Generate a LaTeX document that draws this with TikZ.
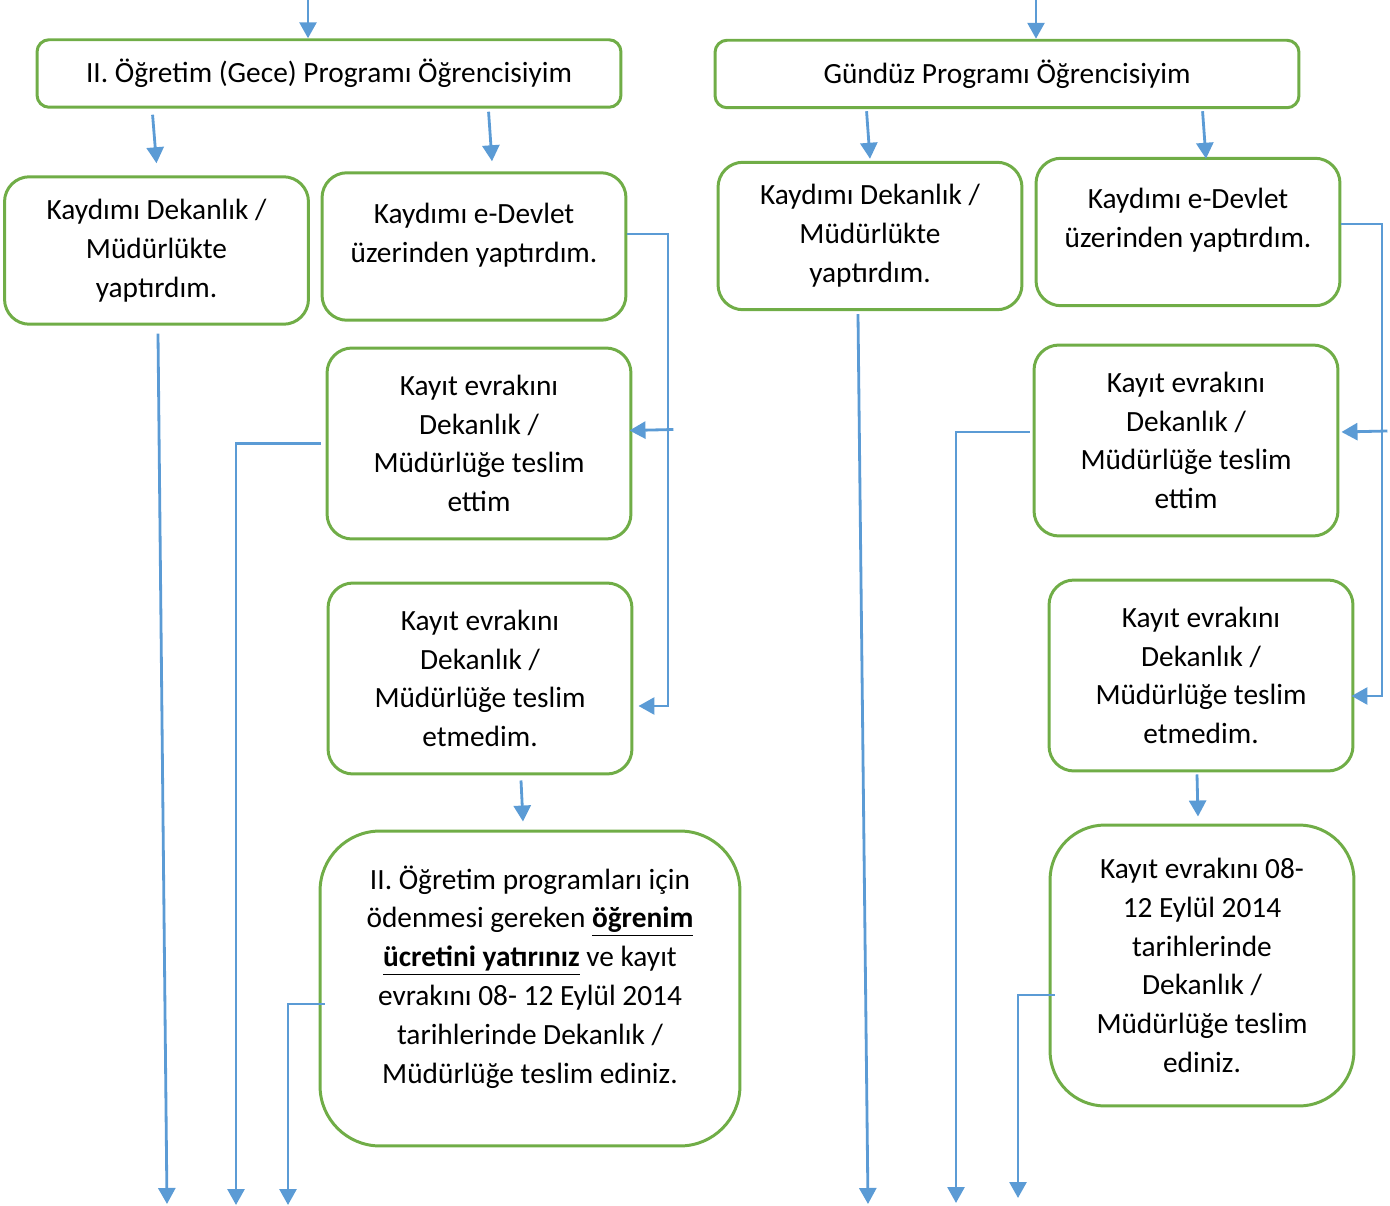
\documentclass[tikz,border=0pt]{standalone}
\usepackage{fontspec}
\setmainfont{Carlito}
\usetikzlibrary{arrows.meta}
\usetikzlibrary{calc}
\definecolor{BoxGreen}{RGB}{112,173,71}
\definecolor{LineBlue}{RGB}{91,155,213}
\tikzset{
  stepbox/.style={draw=BoxGreen, line width=1.7pt, rounded corners=0.5cm, align=center, inner sep=0pt, minimum width=6.08cm, font=\fontsize{16.7pt}{22.1pt}\selectfont},
  headbox/.style={stepbox, rounded corners=0.24cm, minimum width=11.68cm, minimum height=1.35cm},
  smallbox/.style={stepbox, minimum height=2.95cm},
  tallbox/.style={stepbox, minimum height=3.82cm},
  raised/.style={text depth=16pt},
  flow/.style={draw=LineBlue, line width=1.6pt, -{Triangle[length=0.32cm,width=0.34cm]}}
}
\begin{document}
\begin{tikzpicture}[x=0.02cm, y=-0.02cm]
   		\useasboundingbox (0,0) rectangle (1390,1206);
   		
   		\node[headbox](gece) at (329,73.5){II. Öğretim (Gece) Programı Öğrencisiyim};
   		\node[headbox](gunduz) at (1007,74){Gündüz Programı Öğrencisiyim};
   		
   		\node[smallbox](gDekan) at (156.5,250.5){Kaydımı Dekanlık /\\Müdürlükte\\yaptırdım.};
   		\node[smallbox, raised](gDevlet) at (474,246.5){Kaydımı e-Devlet\\üzerinden yaptırdım.};
   		\node[tallbox](gTeslim) at (479,443.5){Kayıt evrakını\\Dekanlık /\\Müdürlüğe teslim\\ettim};
   		\node[tallbox](gYok) at (480,678.5){Kayıt evrakını\\Dekanlık /\\Müdürlüğe teslim\\etmedim.};
   		\node[stepbox, raised, rounded corners=1.2cm, minimum width=8.4cm, minimum height=6.3cm](gUcret) at (530,988.5){II. Öğretim programları için\\ödenmesi gereken \underline{\textbf{öğrenim}}\\\underline{\textbf{ücretini yatırınız}} ve kayıt\\evrakını 08- 12 Eylül 2014\\tarihlerinde Dekanlık /\\Müdürlüğe teslim ediniz.};
   		
   		\node[smallbox](dDekan) at (870,236){Kaydımı Dekanlık /\\Müdürlükte\\yaptırdım.};
   		\node[smallbox, raised](dDevlet) at (1188,232){Kaydımı e-Devlet\\üzerinden yaptırdım.};
   		\node[tallbox](dTeslim) at (1186,440.5){Kayıt evrakını\\Dekanlık /\\Müdürlüğe teslim\\ettim};
   		\node[tallbox](dYok) at (1201,675.5){Kayıt evrakını\\Dekanlık /\\Müdürlüğe teslim\\etmedim.};
   		\node[stepbox, rounded corners=1.1cm, minimum height=5.62cm](dTarih) at (1202,965.5){Kayıt evrakını 08-\\12 Eylül 2014\\tarihlerinde\\Dekanlık /\\Müdürlüğe teslim\\ediniz.};
   		
   		\coordinate (gIn) at (308,0);
   		\coordinate (gBus) at (668,234);
   		\coordinate (gOut1) at (167,1204);
   		\coordinate (gOut2) at (236,1205);
   		\coordinate (gOut3) at (288,1205);
   		\coordinate (dIn) at (1036,0);
   		\coordinate (dBus) at (1382,224);
   		\coordinate (dOut1) at (868,1204);
   		\coordinate (dOut2) at (956,1203);
   		\coordinate (dOut3) at (1018,1198);
   		
   		\draw [flow] (gIn) -- (gIn |- gece.north);
   		\draw [flow] ($(gece.south west)+(117,6)$) -- ($(gDekan.north)+(0,-12)$);
   		\draw [flow] ($(gece.south west)+(453,3)$) -- ($(gDevlet.north)+(18,-10)$);
   		\draw [flow] (gDevlet.east |- gBus) -- (gBus) |- ($(gYok.east)+(5,27.5)$);
   		\draw [flow] ($(gTeslim.east)+(41,-14)$) -- ($(gTeslim.east)+(-3,-13)$);
   		\draw [flow] ($(gYok.south)+(41,5)$) -- ($(gUcret.north)+(-7,-8)$);
   		\draw [flow] ($(gDekan.south)+(1.5,8)$) -- (gOut1);
   		\draw [flow] ($(gTeslim.west)+(-5,0)$) -| (gOut2);
   		\draw [flow] ($(gUcret.west)+(6,15.5)$) -| (gOut3);
   		
   		\draw [flow] (dIn) -- (dIn |- gunduz.north);
   		\draw [flow] ($(gunduz.south west)+(153,2)$) -- ($(dDekan.north)+(0,-2)$);
   		\draw [flow] ($(gunduz.south west)+(489,2)$) -- ($(dDevlet.north)+(18,2)$);
   		\draw [flow] (dDevlet.east |- dBus) -- (dBus) |- ($(dYok.east)+(-3,20.5)$);
   		\draw [flow] ($(dTeslim.east)+(48,-9.5)$) -- ($(dTeslim.east)+(2,-8.5)$);
   		\draw [flow] ($(dYok.south)+(-4,2)$) -- ($(dTarih.north)+(-4,-7)$);
   		\draw [flow] ($(dDekan.south)+(-12,3)$) -- (dOut1);
   		\draw [flow] ($(dTeslim.west)+(-3,-8.5)$) -| (dOut2);
   		\draw [flow] ($(dTarih.west)+(6,29.5)$) -| (dOut3);
   		
\end{tikzpicture}
\end{document}
